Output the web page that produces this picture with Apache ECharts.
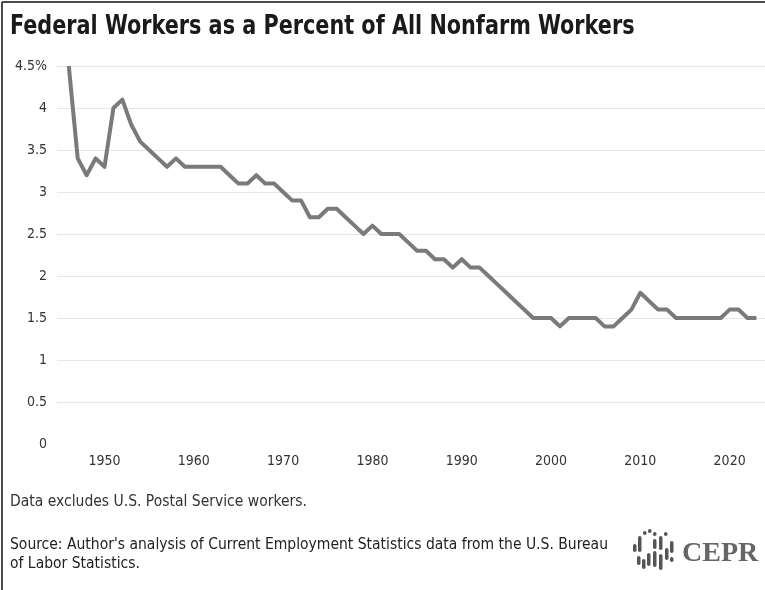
<!DOCTYPE html>
<html style="height: 100%">
    <head>
        <meta charset="utf-8">
    </head>
    <body style="height: 100%; margin: 0">
        <div id="container" style="height: 590px; width: 765px;"></div>
        <script type="text/javascript" src="https://cdn.jsdelivr.net/npm/echarts@6/dist/echarts.min.js"></script>
        <script type="text/javascript">
var dom = document.getElementById("container");
var myChart = echarts.init(dom);
var option;

// federal share of nonfarm payrolls, 1946-2023
const years = [];
for (let y = 1946; y <= 2023; y++) years.push(y);
const fedShare = [
    4.5, 3.4, 3.2, 3.4, 3.3, 4.0, 4.1, 3.8, 3.6, 3.5,
    3.4, 3.3, 3.4, 3.3, 3.3, 3.3, 3.3, 3.3, 3.2, 3.1,
    3.1, 3.2, 3.1, 3.1, 3.0, 2.9, 2.9, 2.7, 2.7, 2.8,
    2.8, 2.7, 2.6, 2.5, 2.6, 2.5, 2.5, 2.5, 2.4, 2.3,
    2.3, 2.2, 2.2, 2.1, 2.2, 2.1, 2.1, 2.0, 1.9, 1.8,
    1.7, 1.6, 1.5, 1.5, 1.5, 1.4, 1.5, 1.5, 1.5, 1.5,
    1.4, 1.4, 1.5, 1.6, 1.8, 1.7, 1.6, 1.6, 1.5, 1.5,
    1.5, 1.5, 1.5, 1.5, 1.6, 1.6, 1.5, 1.5
];
const xTicks = [1950, 1960, 1970, 1980, 1990, 2000, 2010, 2020];

const font = "'Liberation Sans Narrow', 'DejaVu Sans Condensed', 'Noto Sans', sans-serif";

// logo bars: [x, y, height]
const logoBars = [
    [633, 544, 8], [638, 536, 16], [643, 531, 4], [648, 529, 4], [653, 532, 4],
    [653, 539, 10], [659, 536, 14], [664, 532, 4], [670, 541, 12],
    [637, 556, 9], [642, 559, 10], [647, 553, 13], [653, 551, 16],
    [659, 554, 16], [665, 548, 12], [670, 557, 5]
];

option = {
    animation: false,
    grid: {
        left: 57,
        right: 0,
        top: 66,
        bottom: 146
    },
    xAxis: {
        type: 'value',
        min: 1944.68,
        max: 2023.96,
        axisLine: { show: false },
        axisTick: { show: false },
        splitLine: { show: false },
        axisLabel: {
            customValues: xTicks,
            margin: 10,
            fontFamily: font,
            fontSize: 14,
            color: '#333',
            formatter: function (v) { return String(v); }
        }
    },
    yAxis: {
        type: 'value',
        min: 0,
        max: 4.5,
        interval: 0.5,
        axisLine: { show: false },
        axisTick: { show: false },
        splitLine: {
            showMinLine: false,
            lineStyle: { color: '#e6e6e6', width: 1 }
        },
        axisLabel: {
            margin: 10,
            fontFamily: font,
            fontSize: 14,
            color: '#333',
            formatter: function (v) {
                return v === 4.5 ? '4.5%' : String(v);
            }
        }
    },
    series: [
        {
            type: 'line',
            symbol: 'none',
            data: years.map(function (y, i) { return [y, fedShare[i]]; }),
            lineStyle: { color: '#7a7a7a', width: 4, join: 'round' }
        }
    ],
    graphic: {
        elements: [
            { type: 'line', shape: { x1: 2, y1: 2, x2: 765, y2: 2 }, style: { stroke: '#111', lineWidth: 1.5 } },
            { type: 'line', shape: { x1: 2, y1: 2, x2: 2, y2: 590 }, style: { stroke: '#111', lineWidth: 1.5 } },
            {
                type: 'text', x: 10, y: 13, scaleX: 0.855,
                style: {
                    text: 'Federal Workers as a Percent of All Nonfarm Workers',
                    font: 'bold 27px ' + font, fill: '#1a1a1a'
                }
            },
            {
                type: 'text', left: 10, top: 494,
                style: { text: 'Data excludes U.S. Postal Service workers.', font: '15.5px ' + font, fill: '#333' }
            },
            {
                type: 'text', left: 10, top: 535,
                style: {
                    text: "Source: Author's analysis of Current Employment Statistics data from the U.S. Bureau\nof Labor Statistics.",
                    font: '15.5px ' + font, lineHeight: 19, fill: '#222'
                }
            },
            {
                type: 'text', left: 682, top: 540,
                style: { text: 'CEPR', font: 'bold 28px "Liberation Serif", "DejaVu Serif", serif', fill: '#666' }
            }
        ].concat(logoBars.map(function (b) {
            return {
                type: 'rect',
                shape: { x: b[0], y: b[1], width: 3.5, height: b[2], r: 1.75 },
                style: { fill: '#555' }
            };
        }))
    }
};

if (option && typeof option === 'object') {
    myChart.setOption(option);
}
        </script>
    </body>
</html>
